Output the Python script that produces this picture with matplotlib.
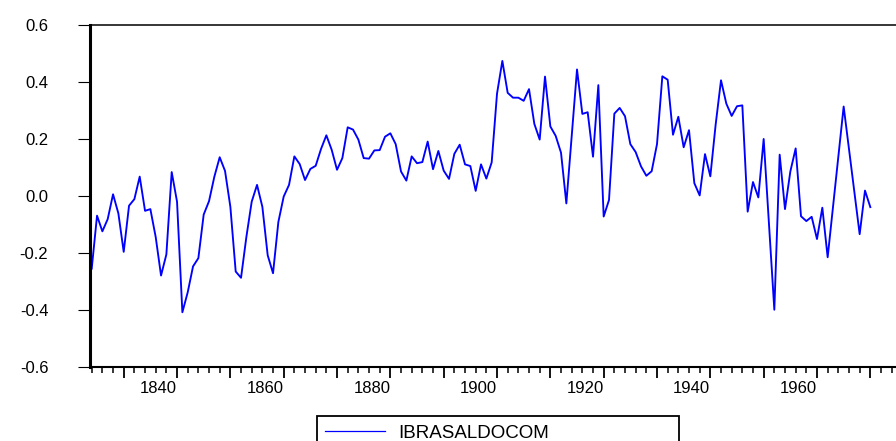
import numpy as np
import matplotlib
matplotlib.use("Agg")
import matplotlib.pyplot as plt
from matplotlib.ticker import MultipleLocator

# annual series, 1824-1970
start_year = 1824
ibrasaldocom = [
    -0.255, -0.069, -0.124, -0.081, 0.006, -0.061, -0.196, -0.034, -0.011, 0.068,
    -0.052, -0.046, -0.144, -0.279, -0.205, 0.084, -0.020, -0.408, -0.338, -0.247,
    -0.218, -0.065, -0.018, 0.068, 0.136, 0.088, -0.038, -0.265, -0.287, -0.144,
    -0.020, 0.039, -0.038, -0.208, -0.271, -0.091, -0.002, 0.039, 0.139, 0.112,
    0.056, 0.095, 0.106, 0.165, 0.213, 0.162, 0.092, 0.133, 0.241, 0.233,
    0.198, 0.133, 0.131, 0.160, 0.161, 0.208, 0.220, 0.182, 0.086, 0.054,
    0.139, 0.115, 0.119, 0.191, 0.094, 0.158, 0.089, 0.060, 0.148, 0.180,
    0.111, 0.105, 0.018, 0.111, 0.061, 0.118, 0.359, 0.474, 0.362, 0.345,
    0.345, 0.334, 0.375, 0.253, 0.198, 0.419, 0.244, 0.211, 0.152, -0.026,
    0.210, 0.444, 0.288, 0.294, 0.138, 0.389, -0.072, -0.014, 0.289, 0.309,
    0.280, 0.182, 0.154, 0.104, 0.071, 0.087, 0.182, 0.420, 0.408, 0.215,
    0.278, 0.171, 0.231, 0.045, 0.002, 0.147, 0.069, 0.251, 0.406, 0.324,
    0.281, 0.315, 0.318, -0.055, 0.049, -0.005, 0.200, -0.099, -0.399, 0.145,
    -0.046, 0.086, 0.167, -0.071, -0.088, -0.073, -0.151, -0.041, -0.215, -0.039,
    0.138, 0.314, 0.165, 0.015, -0.134, 0.019, -0.039,
]
years = np.arange(start_year, start_year + len(ibrasaldocom))

y_ticks = [-0.6, -0.4, -0.2, 0.0, 0.2, 0.4, 0.6]
x_labels = [1840, 1860, 1880, 1900, 1920, 1940, 1960]

plt.rcParams['font.family'] = ['Liberation Sans', 'DejaVu Sans']

W, H = 896, 441
fig = plt.figure(figsize=(W / 100, H / 100), dpi=100)
ax = fig.add_axes([90 / W, 74 / H, 806 / W, 342 / H])

ax.plot(years, ibrasaldocom, color='#0000FF', lw=1.35, label='IBRASALDOCOM')

px_per_year = 5.333
x0 = start_year - 0.32
ax.set_xlim(x0, x0 + 806 / px_per_year)
ax.set_ylim(-0.6, 0.6)

ax.spines['right'].set_visible(False)
ax.spines['left'].set_linewidth(2.2)
ax.spines['top'].set_linewidth(1.1)
ax.spines['bottom'].set_linewidth(1.5)

ax.set_yticks(y_ticks)
ax.set_yticklabels([f"{v:.1f}" for v in y_ticks])
ax.tick_params(axis='y', direction='out', length=9, width=0.8, pad=21, labelsize=12)

major = list(range(1830, 1975, 10))
ax.set_xticks(major)
ax.set_xticklabels([str(y) if y in x_labels else '' for y in major], ha='right')
ax.xaxis.set_minor_locator(MultipleLocator(2))
ax.tick_params(axis='x', which='major', direction='out', length=8, width=1.3,
               pad=2, labelsize=12)
ax.tick_params(axis='x', which='minor', direction='out', length=4.5, width=1.1)
# label right edge sits on the tick
for lab in ax.get_xticklabels():
    lab.set_horizontalalignment('right')

leg = fig.legend(loc='upper left', bbox_to_anchor=(317 / W, 0, 362 / W, 25 / H),
                 mode='expand', fontsize=13.5, handlelength=3.2, handletextpad=0.7,
                 borderpad=0.45, borderaxespad=0, fancybox=False, framealpha=1)
leg.get_frame().set_edgecolor('black')
leg.get_frame().set_linewidth(1.3)
leg.get_lines()[0].set_linewidth(0.9)

fig.savefig('out.png', dpi=100)
